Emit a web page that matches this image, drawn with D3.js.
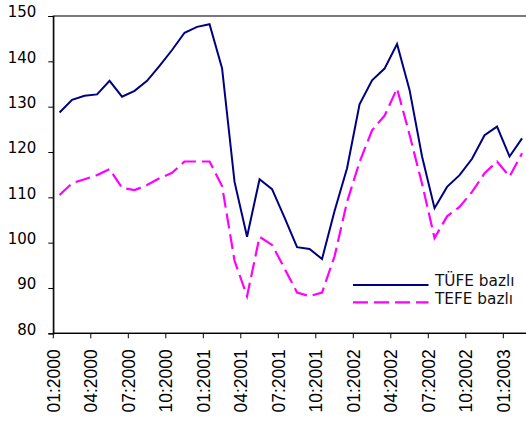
<!DOCTYPE html>
<html>
<head>
<meta charset="utf-8">
<script src="https://cdn.jsdelivr.net/npm/d3@7"></script>
<style>
  html, body { margin: 0; padding: 0; background: #fff; }
  svg { display: block; }
</style>
</head>
<body>
<svg id="chart" width="526" height="423"></svg>
<script>
// Monthly categories, 01:2000 .. 02:2003
const months = [
  "01:2000","02:2000","03:2000","04:2000","05:2000","06:2000","07:2000","08:2000","09:2000","10:2000","11:2000","12:2000",
  "01:2001","02:2001","03:2001","04:2001","05:2001","06:2001","07:2001","08:2001","09:2001","10:2001","11:2001","12:2001",
  "01:2002","02:2002","03:2002","04:2002","05:2002","06:2002","07:2002","08:2002","09:2002","10:2002","11:2002","12:2002",
  "01:2003","02:2003"
];

// CPI-based series
const tufe = [
  128.7, 131.5, 132.4, 132.7, 135.7, 132.2, 133.5, 135.7, 139.0, 142.5, 146.3, 147.6,
  148.2, 138.5, 113.4, 101.3, 114.0, 111.8, 105.5, 99.0, 98.6, 96.4, 107.0, 116.4,
  130.5, 135.8, 138.4, 143.8, 133.7, 119.0, 107.6, 112.3, 114.9, 118.5, 123.7, 125.6,
  119.0, 123.0
];

// WPI-based series
const tefe = [
  110.5, 113.1, 114.0, 114.9, 116.2, 112.1, 111.6, 112.7, 114.2, 115.4, 117.9, 117.9,
  117.9, 112.5, 96.0, 88.2, 101.3, 99.5, 94.3, 89.0, 88.2, 89.0, 97.0, 109.0,
  117.8, 124.8, 128.0, 134.0, 123.8, 113.0, 101.0, 105.8, 107.9, 111.2, 115.3, 117.9,
  114.6, 119.7
];

const yTicks = [80, 90, 100, 110, 120, 130, 140, 150];
const xTickLabels = months.filter((m, i) => i % 3 === 0);
const seriesNames = ["TÜFE bazlı", "TEFE bazlı"];

const svg = d3.select("#chart");
const plotLeft = 53.3, plotRight = 528.3, plotTop = 16, plotBottom = 333.3;

const x = d3.scaleBand().domain(months).range([plotLeft, plotRight]).paddingInner(0).paddingOuter(0);
const y = d3.scaleLinear().domain([80, 150]).range([plotBottom, plotTop]);

// plot frame
svg.append("rect")
  .attr("x", plotLeft).attr("y", plotTop)
  .attr("width", plotRight - plotLeft).attr("height", plotBottom - plotTop)
  .attr("fill", "none").attr("stroke", "#222").attr("stroke-width", 1.2);

// y axis
const yAxis = svg.append("g").attr("transform", `translate(${plotLeft},0)`)
  .call(d3.axisLeft(y).tickValues(yTicks).tickSize(5).tickFormat(d3.format("d")));
yAxis.select(".domain").attr("stroke", "#000").attr("stroke-width", 1.2);
yAxis.selectAll(".tick line").attr("stroke", "#000");
yAxis.selectAll(".tick text")
  .attr("x", -17).attr("dy", "0.05em")
  .attr("font-family", "DejaVu Sans, sans-serif").attr("font-size", 15).attr("fill", "#000");

// x axis: ticks at category boundaries, every third month
const xg = svg.append("g").attr("transform", `translate(0,${plotBottom})`);
xg.append("line").attr("x1", plotLeft).attr("x2", plotRight).attr("stroke", "#000").attr("stroke-width", 1.2);
xg.selectAll("line.tick").data(xTickLabels).enter().append("line")
  .attr("class", "tick")
  .attr("x1", d => x(d)).attr("x2", d => x(d))
  .attr("y1", 0).attr("y2", 5).attr("stroke", "#000");
xg.selectAll("text").data(xTickLabels).enter().append("text")
  .attr("transform", d => `translate(${x(d)},16) rotate(-90)`)
  .attr("text-anchor", "end").attr("dy", "0.36em")
  .attr("font-family", "Liberation Sans, Arial, sans-serif").attr("font-size", 17.5).attr("fill", "#000")
  .text(d => d);

const line = d3.line()
  .x((d, i) => x(months[i]) + x.bandwidth() / 2)
  .y(d => y(d));

svg.append("path").datum(tefe)
  .attr("d", line).attr("fill", "none")
  .attr("stroke", "#ff00ff").attr("stroke-width", 2.2)
  .attr("stroke-dasharray", "15,6").attr("stroke-linejoin", "miter");

svg.append("path").datum(tufe)
  .attr("d", line).attr("fill", "none")
  .attr("stroke", "#000080").attr("stroke-width", 2).attr("stroke-linejoin", "miter");

// legend
const legend = svg.append("g");
const legendItems = [
  { name: seriesNames[0], color: "#000080", dash: null, ly: 285, ty: 286 },
  { name: seriesNames[1], color: "#ff00ff", dash: "15,6", ly: 302.3, ty: 304 }
];
legendItems.forEach(it => {
  legend.append("line")
    .attr("x1", 353).attr("x2", 428.5).attr("y1", it.ly).attr("y2", it.ly)
    .attr("stroke", it.color).attr("stroke-width", 2.2)
    .attr("stroke-dasharray", it.dash);
  legend.append("text")
    .attr("x", 435).attr("y", it.ty)
    .attr("font-family", "DejaVu Sans, sans-serif").attr("font-size", 15.3).attr("fill", "#111")
    .text(it.name);
});
</script>
</body>
</html>
